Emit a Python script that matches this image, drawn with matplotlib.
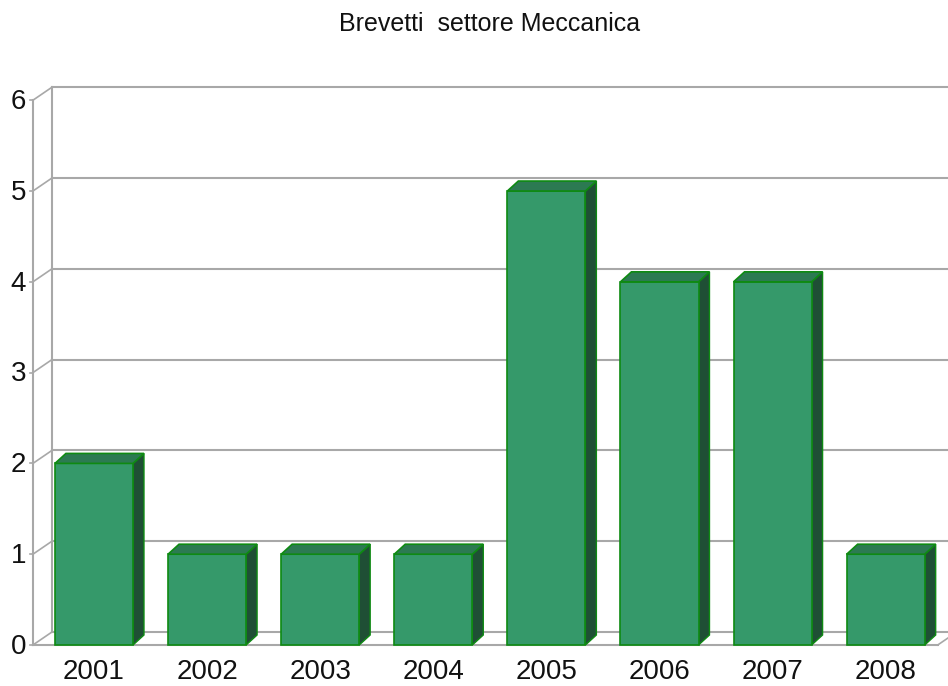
import matplotlib
matplotlib.use("Agg")
import matplotlib.pyplot as plt
from matplotlib.patches import Polygon

plt.rcParams['font.family'] = ['Liberation Sans', 'DejaVu Sans']

# ---- data ----
years = ["2001", "2002", "2003", "2004", "2005", "2006", "2007", "2008"]
values = [2, 1, 1, 1, 5, 4, 4, 1]
y_ticks = [0, 1, 2, 3, 4, 5, 6]
title = "Brevetti  settore Meccanica"

# ---- styling ----
front_c = "#35996A"
top_c = "#2C7A52"
side_c = "#1F4F35"
edge_c = "#0E8A12"
grid_c = "#A8A8A8"

fig = plt.figure(figsize=(9.48, 6.86), dpi=100)
ax = fig.add_axes([0, 0, 1, 1])
ax.set_xlim(-0.831, 7.551)
ax.set_ylim(-0.4515, 7.104)
ax.axis("off")

x0 = -0.54          # front-left wall position
xr = 7.46           # front-right floor corner
dxw, dyw = 0.168, 0.143   # wall depth offsets
hw = 0.345          # bar half width
dxb, dyb = 0.097, 0.11    # bar depth offsets

# back-wall gridlines and side-wall diagonals
for v in y_ticks:
    ax.plot([x0 + dxw, 9], [v + dyw, v + dyw], color=grid_c, lw=1.5, zorder=1)
    ax.plot([x0, x0 + dxw], [v, v + dyw], color=grid_c, lw=1.2, zorder=1)
    ax.plot([x0 - 0.03, x0], [v, v], color=grid_c, lw=1.2, zorder=1)
ax.plot([x0, x0], [0, y_ticks[-1]], color=grid_c, lw=1.5, zorder=1)
ax.plot([x0 + dxw, x0 + dxw], [dyw, y_ticks[-1] + dyw], color=grid_c, lw=1.5, zorder=1)
# floor
ax.plot([x0, xr], [0, 0], color=grid_c, lw=1.5, zorder=1)
ax.plot([xr, xr + dxw], [0, dyw], color=grid_c, lw=1.2, zorder=1)

# bars
for i, v in enumerate(values):
    l, r = i - hw, i + hw
    front = Polygon([(l, 0), (r, 0), (r, v), (l, v)], closed=True,
                    facecolor=front_c, edgecolor=edge_c, lw=1.2, zorder=3)
    top = Polygon([(l, v), (r, v), (r + dxb, v + dyb), (l + dxb, v + dyb)], closed=True,
                  facecolor=top_c, edgecolor=edge_c, lw=1.2, zorder=3)
    side = Polygon([(r, 0), (r + dxb, dyb), (r + dxb, v + dyb), (r, v)], closed=True,
                   facecolor=side_c, edgecolor=edge_c, lw=1.0, zorder=2)
    ax.add_patch(side)
    ax.add_patch(front)
    ax.add_patch(top)

# tick labels
for v in y_ticks:
    ax.text(-0.60, v - 0.02, str(v), ha="right", va="center", fontsize=20, color="#111111")
for i, yr in enumerate(years):
    ax.text(i, -0.295, yr, ha="center", va="center", fontsize=20, color="#111111")

ax.text(3.50, 6.84, title, ha="center", va="center", fontsize=18, color="#111111")

fig.savefig("out.png", dpi=100)
